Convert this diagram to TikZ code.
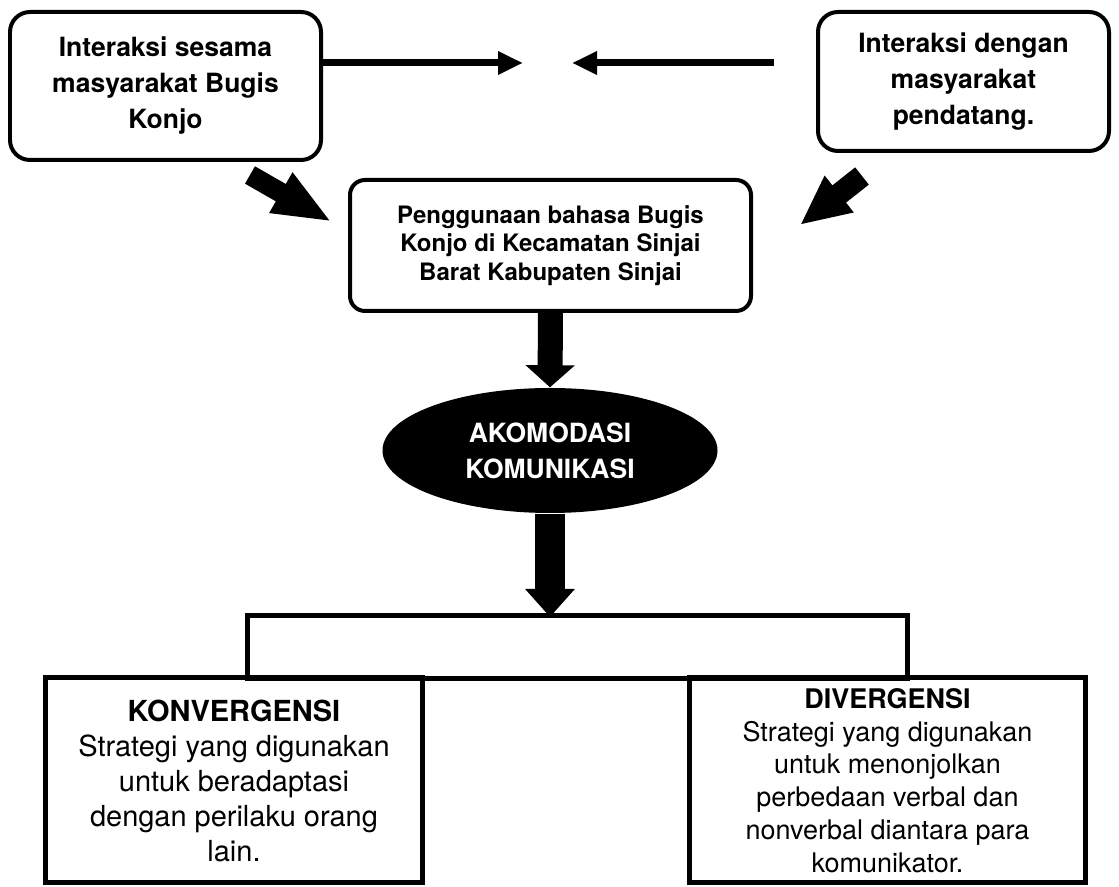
\documentclass[tikz,border=0pt]{standalone}
\usepackage{fontspec}
\setmainfont{TeX Gyre Heros}
\usetikzlibrary{arrows.meta,shapes.geometric}

\begin{document}
\begin{tikzpicture}[
  topbox/.style={draw, line width=0.04cm, rounded corners=0.2cm, align=center, inner sep=0pt, font=\bfseries\fontsize{7.54}{10.24}\selectfont},
  midbox/.style={draw, line width=0.04cm, rounded corners=0.15cm, align=center, inner sep=0pt, font=\bfseries\fontsize{6.83}{8.1}\selectfont},
  oval/.style={ellipse, fill=black, text=white, inner sep=0pt, align=center, font=\bfseries\fontsize{7.54}{10.24}\selectfont},
  plainbox/.style={draw, line width=0.05cm, inner sep=0pt, align=center},
  thinarrow/.style={line width=0.07cm, -{Triangle[length=0.25cm, width=0.22cm]}},
  fatarrow/.style={line width=#1, -{Triangle[length=0.22cm, width=0.48cm]}},
  fatarrow/.default=0.25cm
]
\useasboundingbox (0,0) rectangle (11.19,-8.87);
% Interaction boxes
\node[topbox, minimum width=3.11cm, minimum height=1.48cm] (sesama) at (1.655,-0.86) {Interaksi sesama\\masyarakat Bugis\\Konjo};
\node[topbox, minimum width=2.91cm, minimum height=1.39cm] (pendatang) at (9.635,-0.815) {Interaksi dengan\\masyarakat\\pendatang.};
% Language use
\node[midbox, minimum width=4.01cm, minimum height=1.31cm] (bahasa) at (5.505,-2.455) {Penggunaan bahasa Bugis\\Konjo di Kecamatan Sinjai\\Barat Kabupaten Sinjai};
% Accommodation
\node[oval, minimum width=3.35cm, minimum height=1.25cm] (akomodasi) at (5.50,-4.505) {AKOMODASI\\KOMUNIKASI};
% Strategies
\node[plainbox, minimum width=6.60cm, minimum height=0.63cm] (strategi) at (5.775,-6.47) {};
\node[plainbox, minimum width=3.77cm, minimum height=2.05cm, font=\fontsize{8.25}{9.96}\selectfont] (konv) at (2.34,-7.805) {\textbf{KONVERGENSI}\\Strategi yang digunakan\\untuk beradaptasi\\dengan perilaku orang\\lain.};
\node[plainbox, minimum width=3.96cm, minimum height=2.05cm, font=\fontsize{7.68}{9.33}\selectfont] (div) at (8.875,-7.805) {\textbf{DIVERGENSI}\\Strategi yang digunakan\\untuk menonjolkan\\perbedaan verbal dan\\nonverbal diantara para\\komunikator.};
% Free arrow ends
\coordinate (endL) at (5.23,-0.63);
\coordinate (endR) at (5.72,-0.63);
\coordinate (tailR) at (7.74,-0.63);
\coordinate (slantL1) at (2.50,-1.75);
\coordinate (slantL2) at (3.32,-2.22);
\coordinate (slantR1) at (8.62,-1.76);
\coordinate (slantR2) at (8.00,-2.25);
% Horizontal arrows
\draw[thinarrow] (sesama.east |- endL) -- (endL);
\draw[thinarrow] (tailR) -- (endR);
% Slanted arrows
\draw[line width=0.20cm, -{Triangle[length=0.59cm, width=0.42cm]}] (slantL1) -- (slantL2);
\draw[line width=0.22cm, -{Triangle[length=0.50cm, width=0.43cm]}] (slantR1) -- (slantR2);
% Downward arrows
\draw[fatarrow] (bahasa.south) -- (akomodasi.north);
\draw[line width=0.30cm, -{Triangle[length=0.28cm, width=0.48cm]}] (akomodasi.south) -- ([yshift=-0.04cm]akomodasi.south |- strategi.north);
\end{tikzpicture}
\end{document}
